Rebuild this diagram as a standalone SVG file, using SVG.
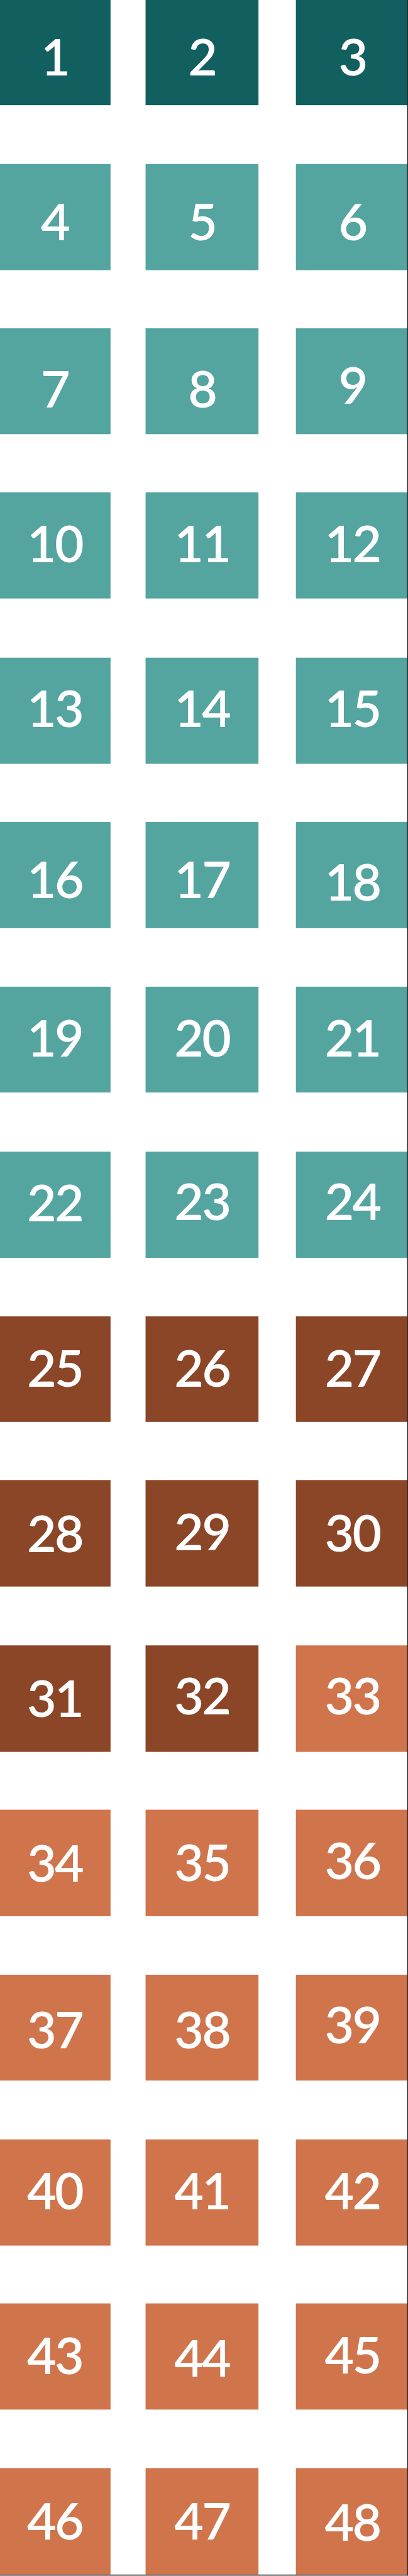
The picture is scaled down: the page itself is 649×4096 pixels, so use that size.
<svg xmlns="http://www.w3.org/2000/svg" width="649" height="4096" viewBox="0 0 649 4096">
<style>
.dk{fill:#11605F}.tl{fill:#54A4A0}.br{fill:#8B4628}.or{fill:#D0744C}
text{font-family:Lato,"Open Sans","Liberation Sans",sans-serif;font-size:149px;font-weight:600;fill:#FFFFFF;text-anchor:middle;letter-spacing:-5px}
</style>
<rect x="0" y="0" width="649" height="4096" fill="#FFFFFF"/>
<g transform="scale(0.541)">
<g id="n1"><rect class="dk" x="-7" y="-2" width="332" height="311"/><text x="161" y="222">1</text></g>
<g id="n2"><rect class="dk" x="428" y="-2" width="332" height="311"/><text x="594" y="222">2</text></g>
<g id="n3"><rect class="dk" x="870" y="-2" width="328" height="311"/><text x="1036" y="222">3</text></g>
<g id="n4"><rect class="tl" x="-7" y="482" width="332" height="312"/><text x="161" y="707">4</text></g>
<g id="n5"><rect class="tl" x="428" y="482" width="332" height="312"/><text x="594" y="707">5</text></g>
<g id="n6"><rect class="tl" x="870" y="482" width="328" height="312"/><text x="1036" y="707">6</text></g>
<g id="n7"><rect class="tl" x="-7" y="965" width="332" height="311"/><text x="161" y="1197">7</text></g>
<g id="n8"><rect class="tl" x="428" y="965" width="332" height="311"/><text x="594" y="1198">8</text></g>
<g id="n9"><rect class="tl" x="870" y="965" width="328" height="311"/><text x="1036" y="1187">9</text></g>
<g id="n10"><rect class="tl" x="-7" y="1447" width="332" height="312"/><text x="161" y="1652">10</text></g>
<g id="n11"><rect class="tl" x="428" y="1447" width="332" height="312"/><text x="594" y="1652">11</text></g>
<g id="n12"><rect class="tl" x="870" y="1447" width="328" height="312"/><text x="1036" y="1652">12</text></g>
<g id="n13"><rect class="tl" x="-7" y="1933" width="332" height="312"/><text x="161" y="2137">13</text></g>
<g id="n14"><rect class="tl" x="428" y="1933" width="332" height="312"/><text x="594" y="2137">14</text></g>
<g id="n15"><rect class="tl" x="870" y="1933" width="328" height="312"/><text x="1036" y="2137">15</text></g>
<g id="n16"><rect class="tl" x="-7" y="2416" width="332" height="312"/><text x="161" y="2640">16</text></g>
<g id="n17"><rect class="tl" x="428" y="2416" width="332" height="312"/><text x="594" y="2640">17</text></g>
<g id="n18"><rect class="tl" x="870" y="2416" width="328" height="312"/><text x="1036" y="2647">18</text></g>
<g id="n19"><rect class="tl" x="-7" y="2900" width="332" height="311"/><text x="161" y="3106">19</text></g>
<g id="n20"><rect class="tl" x="428" y="2900" width="332" height="311"/><text x="594" y="3106">20</text></g>
<g id="n21"><rect class="tl" x="870" y="2900" width="328" height="311"/><text x="1036" y="3106">21</text></g>
<g id="n22"><rect class="tl" x="-7" y="3385" width="332" height="312"/><text x="161" y="3590">22</text></g>
<g id="n23"><rect class="tl" x="428" y="3385" width="332" height="312"/><text x="594" y="3586">23</text></g>
<g id="n24"><rect class="tl" x="870" y="3385" width="328" height="312"/><text x="1036" y="3586">24</text></g>
<g id="n25"><rect class="br" x="-7" y="3869" width="332" height="310"/><text x="161" y="4076">25</text></g>
<g id="n26"><rect class="br" x="428" y="3869" width="332" height="310"/><text x="594" y="4076">26</text></g>
<g id="n27"><rect class="br" x="870" y="3869" width="328" height="310"/><text x="1036" y="4076">27</text></g>
<g id="n28"><rect class="br" x="-7" y="4350" width="332" height="313"/><text x="161" y="4562">28</text></g>
<g id="n29"><rect class="br" x="428" y="4350" width="332" height="313"/><text x="594" y="4556">29</text></g>
<g id="n30"><rect class="br" x="870" y="4350" width="328" height="313"/><text x="1036" y="4560">30</text></g>
<g id="n31"><rect class="br" x="-7" y="4836" width="332" height="313"/><text x="161" y="5047">31</text></g>
<g id="n32"><rect class="br" x="428" y="4836" width="332" height="313"/><text x="594" y="5039">32</text></g>
<g id="n33"><rect class="or" x="870" y="4836" width="328" height="313"/><text x="1036" y="5038">33</text></g>
<g id="n34"><rect class="or" x="-7" y="5319" width="332" height="313"/><text x="161" y="5530">34</text></g>
<g id="n35"><rect class="or" x="428" y="5319" width="332" height="313"/><text x="594" y="5528">35</text></g>
<g id="n36"><rect class="or" x="870" y="5319" width="328" height="313"/><text x="1036" y="5524">36</text></g>
<g id="n37"><rect class="or" x="-7" y="5804" width="332" height="311"/><text x="161" y="6021">37</text></g>
<g id="n38"><rect class="or" x="428" y="5804" width="332" height="311"/><text x="594" y="6021">38</text></g>
<g id="n39"><rect class="or" x="870" y="5804" width="328" height="311"/><text x="1036" y="6006">39</text></g>
<g id="n40"><rect class="or" x="-7" y="6288" width="332" height="312"/><text x="161" y="6493">40</text></g>
<g id="n41"><rect class="or" x="428" y="6288" width="332" height="312"/><text x="594" y="6493">41</text></g>
<g id="n42"><rect class="or" x="870" y="6288" width="328" height="312"/><text x="1036" y="6493">42</text></g>
<g id="n43"><rect class="or" x="-7" y="6770" width="332" height="312"/><text x="161" y="6978">43</text></g>
<g id="n44"><rect class="or" x="428" y="6770" width="332" height="312"/><text x="594" y="6985">44</text></g>
<g id="n45"><rect class="or" x="870" y="6770" width="328" height="312"/><text x="1036" y="6976">45</text></g>
<g id="n46"><rect class="or" x="-7" y="7254" width="332" height="313"/><text x="161" y="7464">46</text></g>
<g id="n47"><rect class="or" x="428" y="7254" width="332" height="313"/><text x="594" y="7464">47</text></g>
<g id="n48"><rect class="or" x="870" y="7254" width="328" height="313"/><text x="1036" y="7468">48</text></g>
<g id="connectors"></g>
<g id="frame"><rect x="1197" y="0" width="3" height="7570" fill="#2A2A2A"/><rect x="0" y="7567" width="1200" height="3" fill="#2A2A2A"/></g>
</g>
</svg>
